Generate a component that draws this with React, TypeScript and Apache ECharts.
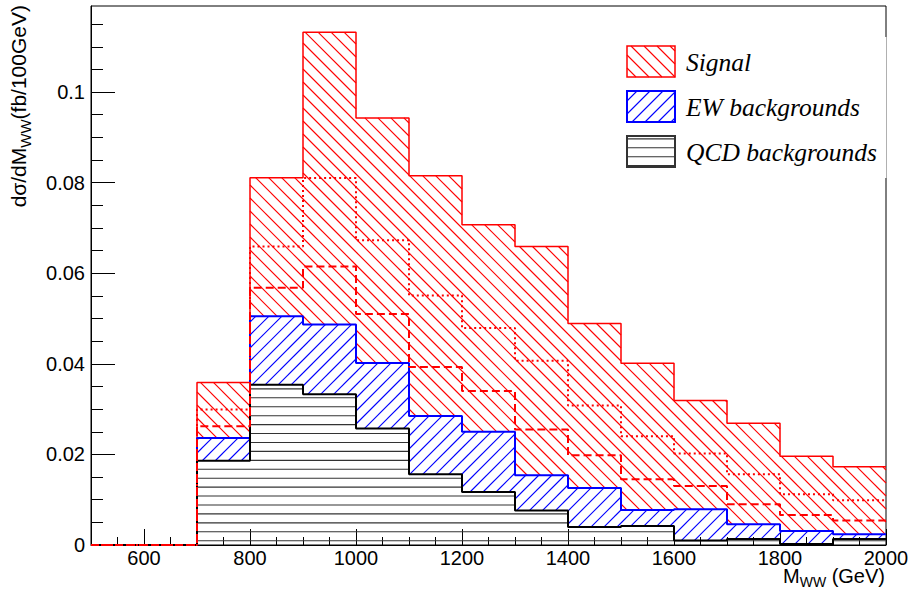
import React, { useEffect, useRef } from 'react';
import * as echarts from 'echarts';

// Bin edges (GeV), 100 GeV bins
const binEdges = [500, 600, 700, 800, 900, 1000, 1100, 1200, 1300, 1400, 1500, 1600, 1700, 1800, 1900, 2000];
// Per-bin contributions (fb/100GeV), stacked QCD -> EW -> Signal
const qcdBkg = [0, 0, 0.0186, 0.0354, 0.0333, 0.0257, 0.0156, 0.0117, 0.0076, 0.0040, 0.0042, 0.0010, 0.0013, 0.0002, 0.0013];
const ewBkg = [0, 0, 0.0050, 0.0151, 0.0154, 0.0145, 0.0129, 0.0133, 0.0078, 0.0086, 0.0035, 0.0069, 0.0033, 0.0029, 0.0011];
const signal = [0, 0, 0.0123, 0.0306, 0.0645, 0.0541, 0.0530, 0.0457, 0.0505, 0.0363, 0.0324, 0.0240, 0.0223, 0.0165, 0.0149];
// Alternative signal hypotheses (drawn on top of backgrounds, outline only)
const signalDotted = [0, 0, 0.0063, 0.0154, 0.0323, 0.0271, 0.0266, 0.0229, 0.0253, 0.0182, 0.0163, 0.0123, 0.0110, 0.0081, 0.0075];
const signalDashed = [0, 0, 0.0026, 0.0063, 0.0128, 0.0108, 0.0108, 0.0090, 0.0101, 0.0072, 0.0068, 0.0051, 0.0044, 0.0035, 0.0030];

const xMajorTicks = [600, 800, 1000, 1200, 1400, 1600, 1800, 2000];
const xMinorTicks = [550, 650, 700, 750, 850, 900, 950, 1050, 1100, 1150, 1250, 1300, 1350, 1450, 1500, 1550, 1650, 1700, 1750, 1850, 1900, 1950];
const yMajorTicks = [0, 0.02, 0.04, 0.06, 0.08, 0.1];
const yMinorTicks = [0.005, 0.01, 0.015, 0.025, 0.03, 0.035, 0.045, 0.05, 0.055, 0.065, 0.07, 0.075, 0.085, 0.09, 0.095, 0.105, 0.11, 0.115];

const legendEntries = ['Signal', 'EW backgrounds', 'QCD backgrounds'];

const X_MIN = 500;
const X_MAX = 2000;
const Y_MAX = 0.119;

const RED = '#ff0000';
const BLUE = '#0000ff';
const DARK = '#000000';
const HLINE = '#333333';

type Kind = 'b' | 'f' | 'h';
const HATCH: Record<Kind, { s: number; off: number }> = {
  b: { s: 13, off: 0 },
  f: { s: 13, off: 0 },
  h: { s: 8.93, off: 540.7 },
};

function hatchSegments(x0: number, y0: number, x1: number, y1: number, kind: Kind): number[][] {
  const { s, off } = HATCH[kind];
  const segs: number[][] = [];
  if (kind === 'h') {
    let c = Math.ceil((y0 - off) / s) * s + off;
    for (; c < y1 - 0.2; c += s) if (c > y0 + 0.2) segs.push([x0, c, x1, c]);
  } else if (kind === 'b') {
    const cmin = y0 - x1, cmax = y1 - x0;
    let c = Math.ceil((cmin - off) / s) * s + off;
    for (; c <= cmax; c += s) {
      const xs = Math.max(x0, y0 - c), xe = Math.min(x1, y1 - c);
      if (xe - xs > 0.3) segs.push([xs, xs + c, xe, xe + c]);
    }
  } else {
    const cmin = x0 + y0, cmax = x1 + y1;
    let c = Math.ceil((cmin - off) / s) * s + off;
    for (; c <= cmax; c += s) {
      const xs = Math.max(x0, c - y1), xe = Math.min(x1, c - y0);
      if (xe - xs > 0.3) segs.push([xs, c - xs, xe, c - xe]);
    }
  }
  return segs;
}

function cumulative(...parts: number[][]): number[] {
  return parts[0].map((_, i) => parts.reduce((a, p) => a + p[i], 0));
}

const qcdTop = cumulative(qcdBkg);
const ewTop = cumulative(qcdBkg, ewBkg);
const sigTop = cumulative(qcdBkg, ewBkg, signal);
const dottedTop = cumulative(qcdBkg, ewBkg, signalDotted);
const dashedTop = cumulative(qcdBkg, ewBkg, signalDashed);

function bandData(lo: number[], hi: number[]) {
  const out: number[][] = [];
  for (let i = 0; i < lo.length; i++) {
    if (hi[i] - lo[i] > 0) out.push([binEdges[i], binEdges[i + 1], lo[i], hi[i]]);
  }
  return out;
}

function stepData(top: number[]) {
  const d = top.map((v, i) => [binEdges[i], v]);
  d.push([binEdges[binEdges.length - 1], top[top.length - 1]]);
  return d;
}

function hatchSeries(data: number[][], kind: Kind, color: string) {
  return {
    type: 'custom',
    silent: true,
    clip: false,
    encode: { x: [0, 1], y: [2, 3] },
    itemStyle: { color },
    data,
    renderItem: (params: any, api: any) => {
      const p0 = api.coord([api.value(0), api.value(3)]);
      const p1 = api.coord([api.value(1), api.value(2)]);
      const segs = hatchSegments(p0[0], p0[1], p1[0], p1[1], kind);
      return {
        type: 'group',
        children: segs.map((g) => ({
          type: 'line',
          shape: { x1: g[0], y1: g[1], x2: g[2], y2: g[3] },
          style: { stroke: color, lineWidth: 1.1, fill: null },
        })),
      };
    },
  };
}

function stepSeries(top: number[], color: string, width: number, type: any) {
  return {
    type: 'line',
    silent: true,
    step: 'end',
    symbol: 'none',
    clip: false,
    data: stepData(top),
    itemStyle: { color },
    lineStyle: { color, width, type },
  };
}

function legendGraphics() {
  const children: any[] = [];
  children.push({ type: 'rect', shape: { x: 610, y: 37, width: 278, height: 141 }, style: { fill: '#fff' } });
  children.push({ type: 'line', shape: { x1: 886.5, y1: 37, x2: 886.5, y2: 178 }, style: { stroke: '#b0b0b0', lineWidth: 1 } });
  const boxes = [
    { y: 46, kind: 'b' as Kind, color: RED, bw: 1.5 },
    { y: 91, kind: 'f' as Kind, color: BLUE, bw: 2 },
    { y: 136, kind: 'h' as Kind, color: HLINE, bw: 2 },
  ];
  boxes.forEach((b, i) => {
    const x0 = 627, x1 = 675, y0 = b.y, y1 = b.y + 31;
    hatchSegments(x0, y0, x1, y1, b.kind).forEach((g) => {
      children.push({ type: 'line', shape: { x1: g[0], y1: g[1], x2: g[2], y2: g[3] }, style: { stroke: b.color, lineWidth: 1.1 } });
    });
    children.push({ type: 'rect', shape: { x: x0, y: y0, width: x1 - x0, height: y1 - y0 }, style: { fill: 'none', stroke: b.color, lineWidth: b.bw } });
    children.push({
      type: 'text',
      x: 686,
      y: y0 + 16,
      style: {
        text: legendEntries[i],
        fontFamily: 'Liberation Serif',
        fontStyle: 'italic',
        fontSize: 25.5,
        fill: '#000',
        align: 'left',
        verticalAlign: 'middle',
      },
    });
  });
  return { type: 'group', z: 50, children };
}

function buildOption() {
  const labelFont = { color: '#000', fontSize: 20, fontFamily: 'Liberation Sans' };
  return {
    animation: false,
    grid: { left: 91, right: 26, top: 6, bottom: 47, show: true, borderColor: '#000', borderWidth: 1, backgroundColor: 'transparent' },
    xAxis: [
      {
        type: 'value', min: X_MIN, max: X_MAX, position: 'bottom',
        axisLine: { show: true, onZero: false, lineStyle: { color: '#000', width: 1 } },
        axisTick: { show: true, inside: true, length: 16, customValues: xMajorTicks, lineStyle: { color: '#000', width: 1 } },
        axisLabel: { ...labelFont, margin: 3, customValues: xMajorTicks, formatter: (v: number) => String(v) },
        splitLine: { show: false },
      },
      {
        type: 'value', min: X_MIN, max: X_MAX, position: 'bottom',
        axisLine: { show: false },
        axisTick: { show: true, inside: true, length: 8, customValues: xMinorTicks, lineStyle: { color: '#000', width: 1 } },
        axisLabel: { show: false },
        splitLine: { show: false },
      },
    ],
    yAxis: [
      {
        type: 'value', min: 0, max: Y_MAX, position: 'left',
        axisLine: { show: true, onZero: false, lineStyle: { color: '#000', width: 1 } },
        axisTick: { show: true, inside: true, length: 24, customValues: yMajorTicks, lineStyle: { color: '#000', width: 1 } },
        axisLabel: { ...labelFont, margin: 6, customValues: yMajorTicks, formatter: (v: number) => String(v) },
        splitLine: { show: false },
      },
      {
        type: 'value', min: 0, max: Y_MAX, position: 'left',
        axisLine: { show: false },
        axisTick: { show: true, inside: true, length: 12, customValues: yMinorTicks, lineStyle: { color: '#000', width: 1 } },
        axisLabel: { show: false },
        splitLine: { show: false },
      },
    ],
    series: [
      hatchSeries(bandData(ewTop, sigTop), 'b', RED),
      hatchSeries(bandData(qcdTop, ewTop), 'f', BLUE),
      hatchSeries(bandData(qcdTop.map(() => 0), qcdTop), 'h', HLINE),
      stepSeries(sigTop, RED, 1.5, 'solid'),
      stepSeries(ewTop, BLUE, 2, 'solid'),
      stepSeries(qcdTop, DARK, 2, 'solid'),
      stepSeries(dottedTop, RED, 2, [2, 3]),
      stepSeries(dashedTop, RED, 2, [8, 4]),
    ],
    graphic: [
      legendGraphics(),
      {
        type: 'text', x: 18, y: 5, rotation: Math.PI / 2, z: 50,
        style: {
          text: 'dσ/dM{s|WW}(fb/100GeV)',
          fontFamily: 'Liberation Sans', fontSize: 21, fill: '#000',
          align: 'right', verticalAlign: 'middle',
          rich: { s: { fontFamily: 'Liberation Sans', fontSize: 15, fill: '#000', padding: [14, 0, 0, 0] } },
        },
      },
      {
        type: 'text', x: 885, y: 576, z: 50,
        style: {
          text: 'M{s|WW} (GeV)',
          fontFamily: 'Liberation Sans', fontSize: 20, fill: '#000',
          align: 'right', verticalAlign: 'middle',
          rich: { s: { fontFamily: 'Liberation Sans', fontSize: 14, fill: '#000', padding: [12, 0, 0, 0] } },
        },
      },
    ],
  };
}

export default function App() {
  const ref = useRef<HTMLDivElement>(null);
  useEffect(() => {
    if (!ref.current) return;
    const chart = echarts.init(ref.current, null, { renderer: 'svg' });
    chart.setOption(buildOption() as any);
    return () => chart.dispose();
  }, []);
  return <div ref={ref} style={{ position: 'absolute', left: 0, top: 0, width: 912, height: 592, background: '#fff' }} />;
}
